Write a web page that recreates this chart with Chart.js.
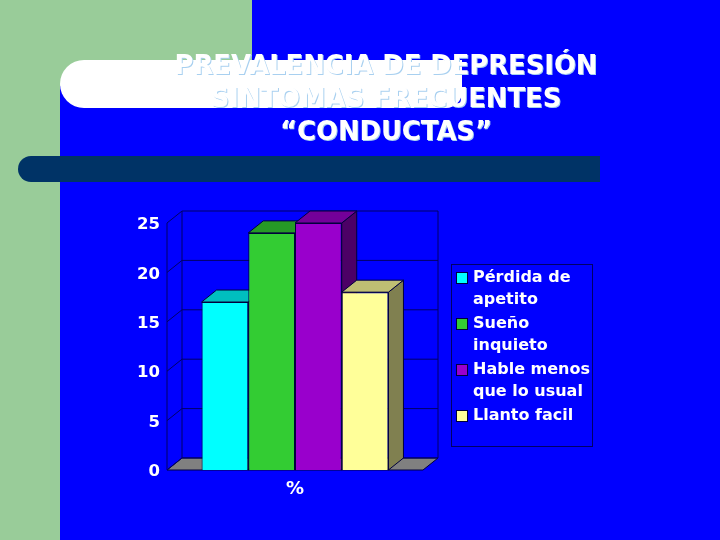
<!DOCTYPE html>
<html>
<head>
<meta charset="utf-8">
<style>
    html, body { margin: 0; padding: 0; background: #0000ff; }
    #wrap { width: 720px; height: 540px; }
</style>
<script src="https://cdn.jsdelivr.net/npm/chart.js@4"></script>
</head>
<body>
<div id="wrap"><canvas id="depresionChart" width="720" height="540"></canvas></div>
<script>
// Chart data
const categories = ['%'];
const seriesNames = ['Pérdida de apetito', 'Sueño inquieto', 'Hable menos que lo usual', 'Llanto facil'];
const seriesValues = [17, 24, 25, 18];
const tickLabels = [0, 5, 10, 15, 20, 25];
const legendLines = [['Pérdida de', 'apetito'], ['Sueño', 'inquieto'], ['Hable menos', 'que lo usual'], ['Llanto facil']];
const titleLines = ['PREVALENCIA DE DEPRESIÓN', 'SINTOMAS FRECUENTES', '“CONDUCTAS”'];

// Colors: front, top and side faces of each bar
const frontColors = ['#00ffff', '#33cc33', '#9900cc', '#ffff99'];
const topColors = ['#00bfbf', '#269926', '#730099', '#bfbf73'];
const sideColors = ['#008080', '#1a661a', '#4c0066', '#808050'];

const FONT = '"DejaVu Sans", Verdana, sans-serif';
const DEPTH_X = 15;
const DEPTH_Y = 12;
const GRID = '#000066';

function fillPoly(ctx, pts, color) {
    ctx.fillStyle = color;
    ctx.beginPath();
    pts.forEach((p, i) => i ? ctx.lineTo(p[0], p[1]) : ctx.moveTo(p[0], p[1]));
    ctx.closePath();
    ctx.fill();
    ctx.strokeStyle = '#00003c';
    ctx.lineWidth = 1;
    ctx.stroke();
}

// Slide background and the 3D walls behind the bars
const slideBackground = {
    id: 'slideBackground',
    // nudge the y tick labels down, the picture has them a bit under the gridline
    afterUpdate(chart) {
        chart.scales.y.getLabelItems(chart.chartArea).forEach(item => { item.textOffset += 2; });
    },
    beforeDraw(chart) {
        const ctx = chart.ctx;
        const { left, right, bottom } = chart.chartArea;
        const y = chart.scales.y;
        ctx.save();
        ctx.fillStyle = '#0000ff';
        ctx.fillRect(0, 0, 720, 540);
        ctx.fillStyle = '#99cc99';
        ctx.fillRect(0, 0, 60, 540);
        ctx.fillRect(60, 0, 192, 60);
        ctx.fillRect(60, 60, 24, 26);

        ctx.fillStyle = '#ffffff';
        ctx.beginPath();
        ctx.roundRect(60, 60, 402, 48, [24, 0, 16, 24]);
        ctx.fill();

        ctx.fillStyle = '#003366';
        ctx.beginPath();
        ctx.roundRect(18, 156, 582, 26, [13, 0, 0, 13]);
        ctx.fill();

        // floor
        fillPoly(ctx, [[left, bottom], [right, bottom], [right + DEPTH_X, bottom - DEPTH_Y], [left + DEPTH_X, bottom - DEPTH_Y]], '#808080');

        // back wall and side wall grid
        ctx.strokeStyle = GRID;
        ctx.lineWidth = 1;
        ctx.beginPath();
        tickLabels.forEach(v => {
            const py = y.getPixelForValue(v);
            ctx.moveTo(left, py);
            ctx.lineTo(left + DEPTH_X, py - DEPTH_Y);
            ctx.lineTo(right + DEPTH_X, py - DEPTH_Y);
        });
        ctx.moveTo(left, y.getPixelForValue(25));
        ctx.lineTo(left, bottom);
        ctx.moveTo(left + DEPTH_X, y.getPixelForValue(25) - DEPTH_Y);
        ctx.lineTo(left + DEPTH_X, bottom - DEPTH_Y);
        ctx.moveTo(right + DEPTH_X, y.getPixelForValue(25) - DEPTH_Y);
        ctx.lineTo(right + DEPTH_X, bottom - DEPTH_Y);
        ctx.stroke();
        ctx.restore();
    },
    // top and side faces, left to right so the fronts land on top
    beforeDatasetsDraw(chart) {
        const ctx = chart.ctx;
        ctx.save();
        chart.data.datasets.forEach((ds, i) => {
            const bar = chart.getDatasetMeta(i).data[0];
            const x0 = bar.x - bar.width / 2;
            const x1 = bar.x + bar.width / 2;
            fillPoly(ctx, [[x1, bar.y], [x1 + DEPTH_X, bar.y - DEPTH_Y], [x1 + DEPTH_X, bar.base - DEPTH_Y], [x1, bar.base]], sideColors[i]);
            fillPoly(ctx, [[x0, bar.y], [x0 + DEPTH_X, bar.y - DEPTH_Y], [x1 + DEPTH_X, bar.y - DEPTH_Y], [x1, bar.y]], topColors[i]);
        });
        ctx.restore();
    },
    afterDraw(chart) {
        const ctx = chart.ctx;
        ctx.save();
        // title
        ctx.textAlign = 'center';
        ctx.textBaseline = 'middle';
        ctx.font = 'bold 25.8px ' + FONT;
        titleLines.forEach((line, i) => {
            const ty = 67 + i * 33;
            ctx.fillStyle = '#a8d0f0';
            ctx.fillText(line, 387, ty + 1);
            ctx.fillStyle = '#ffffff';
            ctx.fillText(line, 386, ty);
        });

        // legend
        ctx.strokeStyle = GRID;
        ctx.lineWidth = 1;
        ctx.strokeRect(451.5, 264.5, 141, 182);
        ctx.textAlign = 'left';
        ctx.font = 'bold 16px ' + FONT;
        let ly = 278;
        legendLines.forEach((lines, i) => {
            ctx.fillStyle = frontColors[i];
            ctx.fillRect(457, ly - 5, 10, 10);
            ctx.strokeStyle = '#00003c';
            ctx.strokeRect(456.5, ly - 5.5, 11, 11);
            ctx.fillStyle = '#ffffff';
            lines.forEach(text => {
                ctx.fillText(text, 473, ly);
                ly += 22;
            });
            ly += 2;
        });
        ctx.restore();
    }
};

const datasets = seriesNames.map((name, i) => ({
    label: name,
    data: [seriesValues[i]],
    backgroundColor: frontColors[i],
    borderColor: '#00003c',
    borderWidth: 1
}));

new Chart(document.getElementById('depresionChart'), {
    type: 'bar',
    data: { labels: categories, datasets: datasets },
    plugins: [slideBackground],
    options: {
        responsive: false,
        animation: false,
        devicePixelRatio: 1,
        layout: { padding: { top: 223, right: 297, bottom: 0, left: 0 } },
        plugins: {
            legend: { display: false },
            title: { display: false },
            tooltip: { enabled: false }
        },
        datasets: { bar: { categoryPercentage: 0.73, barPercentage: 1 } },
        scales: {
            x: {
                grid: { display: false, drawTicks: false },
                border: { display: false },
                ticks: { color: '#ffffff', font: { family: FONT, size: 18, weight: 'bold' }, padding: 9 },
                afterFit(scale) { scale.height = 70; }
            },
            y: {
                min: 0,
                max: 25,
                afterBuildTicks(scale) { scale.ticks = tickLabels.map(v => ({ value: v })); },
                grid: { display: false, drawTicks: false },
                border: { display: false },
                ticks: { color: '#ffffff', font: { family: FONT, size: 16.5, weight: 'bold' }, padding: 7 },
                afterFit(scale) { scale.width = 167; }
            }
        }
    }
});
</script>
</body>
</html>
